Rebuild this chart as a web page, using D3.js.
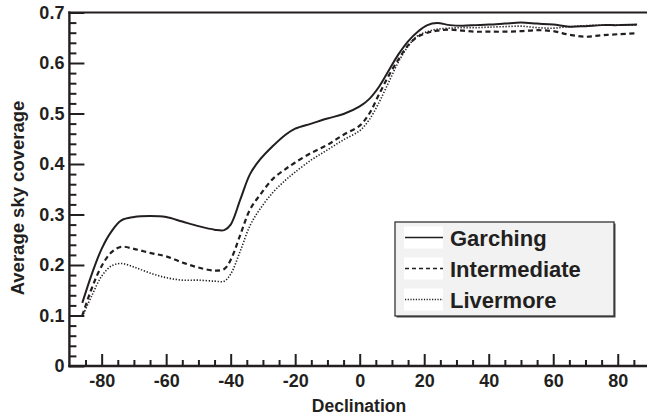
<!DOCTYPE html>
<html>
<head>
<meta charset="utf-8">
<script src="https://cdn.jsdelivr.net/npm/d3@7"></script>
<style>
  html, body { margin: 0; padding: 0; background: #ffffff; }
  svg { display: block; }
  text { font-family: "Liberation Sans", Arial, Helvetica, sans-serif; font-weight: bold; fill: #231f20; }
</style>
</head>
<body>
<svg id="chart" width="647" height="420"></svg>
<script>
// ---- data ----
const declination = [-86, -83, -80, -77, -74, -70, -65, -60, -55, -50, -45, -42, -40, -37, -34, -31, -27, -23, -20, -15, -10, -5, 0, 3, 6, 9, 12, 15, 18, 21, 24, 28, 32, 36, 40, 45, 50, 55, 60, 65, 70, 75, 80, 86];
const garching = [0.125, 0.183, 0.232, 0.266, 0.288, 0.295, 0.297, 0.295, 0.286, 0.277, 0.270, 0.269, 0.280, 0.330, 0.380, 0.408, 0.435, 0.458, 0.470, 0.480, 0.490, 0.499, 0.514, 0.529, 0.553, 0.585, 0.617, 0.643, 0.662, 0.675, 0.679, 0.675, 0.674, 0.675, 0.676, 0.678, 0.680, 0.678, 0.676, 0.672, 0.673, 0.675, 0.675, 0.676];
const intermediate = [0.100, 0.155, 0.198, 0.225, 0.236, 0.232, 0.224, 0.217, 0.205, 0.195, 0.189, 0.192, 0.210, 0.260, 0.310, 0.338, 0.370, 0.390, 0.403, 0.422, 0.438, 0.458, 0.476, 0.500, 0.538, 0.575, 0.607, 0.635, 0.652, 0.660, 0.664, 0.666, 0.664, 0.662, 0.662, 0.662, 0.663, 0.665, 0.663, 0.656, 0.652, 0.655, 0.657, 0.659];
const livermore = [0.098, 0.140, 0.178, 0.198, 0.203, 0.196, 0.184, 0.175, 0.170, 0.170, 0.168, 0.168, 0.182, 0.228, 0.278, 0.310, 0.343, 0.368, 0.384, 0.408, 0.428, 0.448, 0.466, 0.488, 0.522, 0.562, 0.602, 0.633, 0.654, 0.662, 0.667, 0.669, 0.670, 0.670, 0.671, 0.672, 0.673, 0.670, 0.669, 0.672, 0.674, 0.675, 0.675, 0.675];
const seriesNames = ["Garching", "Intermediate", "Livermore"];
const xTickValues = [-80, -60, -40, -20, 0, 20, 40, 60, 80];
const yTickValues = [0, 0.1, 0.2, 0.3, 0.4, 0.5, 0.6, 0.7];
const xTitle = "Declination";
const yTitle = "Average sky coverage";

(function () {
// ---- layout ----
const svg = d3.select("#chart");
const pLeft = 69.4, pRight = 650, pTop = 12.5, pBottom = 366;
const x = d3.scaleLinear().domain([-90, 90]).range([pLeft, pRight]);
const y = d3.scaleLinear().domain([0, 0.7]).range([pBottom, pTop]);
const ink = "#231f20";

const styles = [
  { dash: null, width: 2.0 },
  { dash: "5,3.5", width: 2.2 },
  { dash: "1.3,1.7", width: 1.6 }
];
const seriesValues = [garching, intermediate, livermore];

// ---- curves ----
const line = d3.line()
  .x(d => x(d[0]))
  .y(d => y(d[1]))
  .curve(d3.curveCatmullRom.alpha(0.5));

seriesValues.forEach((vals, i) => {
  const pts = declination.map((d, j) => [d, vals[j]]);
  svg.append("path")
    .attr("d", line(pts))
    .attr("fill", "none")
    .attr("stroke", ink)
    .attr("stroke-width", styles[i].width)
    .attr("stroke-dasharray", styles[i].dash);
});

// ---- axes ----
const fontSet = g => g.attr("fill", ink)
  .style("font-family", '"Liberation Sans", Arial, sans-serif').style("font-weight", "bold");
// minor y ticks
const yMinor = d3.range(1, 35).map(k => k * 0.02).filter((v, k) => (k + 1) % 5 !== 0);
svg.append("g").attr("transform", `translate(${pLeft},0)`)
  .call(d3.axisLeft(y).tickValues(yMinor).tickSize(-7).tickFormat(""))
  .call(g => g.select(".domain").remove())
  .call(g => g.selectAll("line").attr("stroke", ink).attr("stroke-width", 2));
// major y ticks
svg.append("g").attr("transform", `translate(${pLeft},0)`)
  .call(d3.axisLeft(y).tickValues(yTickValues).tickSize(-15).tickFormat(d => d === 0 ? "0" : d3.format(".1f")(d)))
  .call(g => g.select(".domain").remove())
  .call(g => g.selectAll("line").attr("stroke", ink).attr("stroke-width", 2))
  .call(g => g.selectAll("text").attr("x", -5).attr("font-size", 18).call(fontSet));

// minor x ticks
const xMinor = d3.range(-85, 90, 5).filter(v => v % 20 !== 0);
svg.append("g").attr("transform", `translate(0,${pBottom})`)
  .call(d3.axisBottom(x).tickValues(xMinor).tickSize(-6).tickFormat(""))
  .call(g => g.select(".domain").remove())
  .call(g => g.selectAll("line").attr("stroke", ink).attr("stroke-width", 2));
// major x ticks (plain hyphen-minus as in the reference)
svg.append("g").attr("transform", `translate(0,${pBottom})`)
  .call(d3.axisBottom(x).tickValues(xTickValues).tickSize(-12).tickFormat(d => String(d)))
  .call(g => g.select(".domain").remove())
  .call(g => g.selectAll("line").attr("stroke", ink).attr("stroke-width", 2))
  .call(g => g.selectAll("text").attr("y", 8).attr("font-size", 18).call(fontSet));

// frame lines: left axis, bottom axis, top border
svg.append("line").attr("x1", pLeft).attr("x2", pLeft).attr("y1", pTop - 1).attr("y2", pBottom + 1.2)
  .attr("stroke", ink).attr("stroke-width", 2.4);
svg.append("line").attr("x1", pLeft - 1.2).attr("x2", pRight).attr("y1", pBottom).attr("y2", pBottom)
  .attr("stroke", ink).attr("stroke-width", 2.4);
svg.append("line").attr("x1", pLeft - 1.2).attr("x2", pRight).attr("y1", pTop).attr("y2", pTop)
  .attr("stroke", ink).attr("stroke-width", 2.2);

// axis titles
svg.append("text").attr("x", 359).attr("y", 412)
  .attr("text-anchor", "middle").attr("font-size", 17.5).text(xTitle);
svg.append("text").attr("transform", `translate(24,198) rotate(-90)`)
  .attr("text-anchor", "middle").attr("font-size", 18.5).text(yTitle);

// ---- legend ----
const lg = svg.append("g");
const lx = 395, ly = 222, lw = 219, lh = 94;
lg.append("rect").attr("x", lx + 1.5).attr("y", ly + 1.5).attr("width", lw).attr("height", lh).attr("fill", "#444");
lg.append("rect").attr("x", lx).attr("y", ly).attr("width", lw).attr("height", lh)
  .attr("fill", "#f2f2f2").attr("stroke", "#333").attr("stroke-width", 1.3);
seriesNames.forEach((name, i) => {
  const cy = 237.5 + i * 31;
  lg.append("rect").attr("x", 404).attr("y", cy - 11).attr("width", 39).attr("height", 22).attr("fill", "#fff");
  lg.append("line").attr("x1", 405).attr("x2", 443).attr("y1", cy).attr("y2", cy)
    .attr("stroke", ink).attr("stroke-width", i === 2 ? 1.3 : 1.6)
    .attr("stroke-dasharray", i === 0 ? null : (i === 1 ? "4,3" : "1.2,1.5"));
  lg.append("text").attr("x", 450).attr("y", cy + 8).attr("font-size", 22).text(name);
});
})();
</script>
</body>
</html>
